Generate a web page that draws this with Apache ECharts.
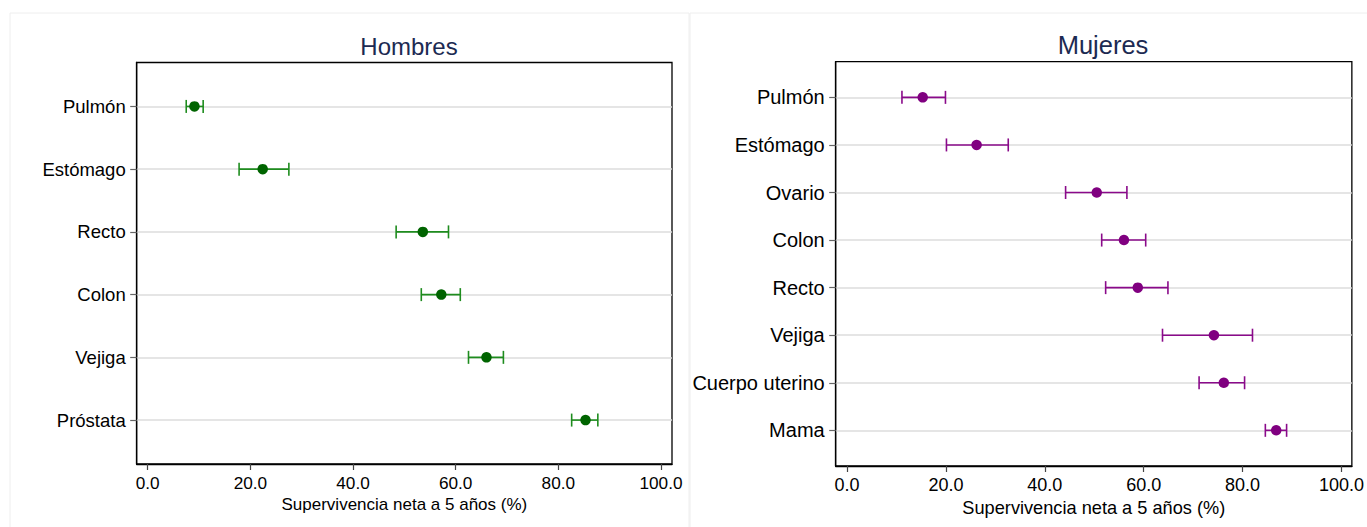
<!DOCTYPE html>
<html>
<head>
<meta charset="utf-8">
<script src="https://cdn.jsdelivr.net/npm/echarts@6/dist/echarts.min.js"></script>
<style>
html,body{margin:0;padding:0;background:#fff;}
#c{width:1367px;height:527px;}
</style>
</head>
<body>
<div id="c"></div>
<script>
// ---- data ----
const xTicks = [0, 20, 40, 60, 80, 100];

const menCats = ['Pulmón', 'Estómago', 'Recto', 'Colon', 'Vejiga', 'Próstata'];
const menEst  = [9.1, 22.4, 53.6, 57.2, 66.0, 85.3];
const menLow  = [7.5, 17.8, 48.4, 53.3, 62.5, 82.6];
const menHigh = [10.8, 27.5, 58.6, 60.9, 69.3, 87.7];

const womenCats = ['Pulmón', 'Estómago', 'Ovario', 'Colon', 'Recto', 'Vejiga', 'Cuerpo uterino', 'Mama'];
const womenEst  = [15.3, 26.2, 50.5, 56.0, 58.8, 74.2, 76.2, 86.8];
const womenLow  = [11.1, 20.1, 44.2, 51.5, 52.3, 63.8, 71.2, 84.6];
const womenHigh = [19.9, 32.6, 56.6, 60.4, 64.9, 82.0, 80.4, 88.9];

const titles = ['Hombres', 'Mujeres'];
const xName = 'Supervivencia neta a 5 años (%)';

// ---- build ----
const FONT = '"Liberation Sans", Arial, Helvetica, sans-serif';
const chart = echarts.init(document.getElementById('c'), null, {renderer: 'svg'});

function idxList(cats){ return cats.map((_, i) => i + 1); }

function xAxisCfg(gridIndex, min, max, fs, nfs, gap){
  return {
    type: 'value', gridIndex, min: min, max: max,
    name: xName, nameLocation: 'middle', nameGap: gap,
    nameTextStyle: {fontFamily: FONT, fontSize: nfs, color: '#000'},
    axisLine: {show: true, onZero: false, lineStyle: {color: '#000', width: 1.3}},
    axisTick: {show: true, inside: false, length: 6, customValues: xTicks, lineStyle: {color: '#444', width: 1.2}},
    axisLabel: {show: true, margin: 10, customValues: xTicks, fontFamily: FONT, fontSize: fs, color: '#000',
      formatter: v => v.toFixed(1)},
    splitLine: {show: false}
  };
}
function yAxisCfg(gridIndex, cats, pad, fs){
  const vals = idxList(cats);
  return {
    type: 'value', gridIndex, inverse: true, min: 1 - pad, max: cats.length + pad,
    axisLine: {show: true, onZero: false, lineStyle: {color: '#000', width: 1.3}},
    axisTick: {show: true, inside: false, length: 6.5, customValues: vals, lineStyle: {color: '#666', width: 1.2}},
    axisLabel: {show: true, margin: 11, customValues: vals, fontFamily: FONT, fontSize: fs, color: '#000',
      formatter: v => cats[Math.round(v) - 1] || ''},
    splitLine: {show: true, lineStyle: {color: '#dddddd', width: 1.6}}
  };
}

function errSeries(xi, cats, low, high, color){
  return {
    type: 'custom', xAxisIndex: xi, yAxisIndex: xi,
    data: cats.map((c, i) => [i + 1, low[i], high[i]]),
    encode: {x: [1, 2], y: 0},
    z: 3,
    renderItem: function(params, api){
      const y = api.value(0);
      const a = api.coord([api.value(1), y]);
      const b = api.coord([api.value(2), y]);
      const h = 6.5;
      const st = {stroke: color, lineWidth: 1.6};
      return {type: 'group', children: [
        {type: 'line', shape: {x1: a[0], y1: a[1], x2: b[0], y2: b[1]}, style: st},
        {type: 'line', shape: {x1: a[0], y1: a[1] - h, x2: a[0], y2: a[1] + h}, style: st},
        {type: 'line', shape: {x1: b[0], y1: b[1] - h, x2: b[0], y2: b[1] + h}, style: st}
      ]};
    }
  };
}
function ptSeries(xi, cats, est, color){
  return {
    type: 'scatter', xAxisIndex: xi, yAxisIndex: xi,
    data: cats.map((c, i) => [est[i], i + 1]),
    symbol: 'circle', symbolSize: 10.5, z: 4,
    itemStyle: {color: color, opacity: 1},
    emphasis: {disabled: true}
  };
}

const option = {
  backgroundColor: '#ffffff',
  animation: false,
  graphic: [
    {type: 'rect', shape: {x: 10, y: 13, width: 679, height: 530}, style: {fill: 'none', stroke: '#eeeeee', lineWidth: 1}, silent: true},
    {type: 'rect', shape: {x: 690, y: 13, width: 690, height: 530}, style: {fill: 'none', stroke: '#eeeeee', lineWidth: 1}, silent: true}
  ],
  title: [
    {text: titles[0], left: 404, top: 29, textAlign: 'center',
      textStyle: {fontFamily: FONT, fontSize: 24, fontWeight: 'normal', color: '#1c2a52'}},
    {text: titles[1], left: 1098, top: 27, textAlign: 'center',
      textStyle: {fontFamily: FONT, fontSize: 25.5, fontWeight: 'normal', color: '#1c2a52'}}
  ],
  grid: [
    {left: 136.7, top: 62.5, width: 535.3, height: 401.5, show: true, borderColor: '#000', borderWidth: 1.3, backgroundColor: '#fff'},
    {left: 835.7, top: 61.7, width: 524.3, height: 404.3, show: true, borderColor: '#000', borderWidth: 1.3, backgroundColor: '#fff'}
  ],
  xAxis: [xAxisCfg(0, -2.15, 102.15, 17.2, 17, 29), xAxisCfg(1, -2.3, 102.1, 18, 18.2, 30)],
  yAxis: [yAxisCfg(0, menCats, 0.7, 18.5), yAxisCfg(1, womenCats, 0.75, 20)],
  series: [
    errSeries(0, menCats, menLow, menHigh, '#1e8c1e'),
    ptSeries(0, menCats, menEst, '#006400'),
    errSeries(1, womenCats, womenLow, womenHigh, '#8a0a8a'),
    ptSeries(1, womenCats, womenEst, '#800080')
  ]
};
chart.setOption(option);
</script>
</body>
</html>
